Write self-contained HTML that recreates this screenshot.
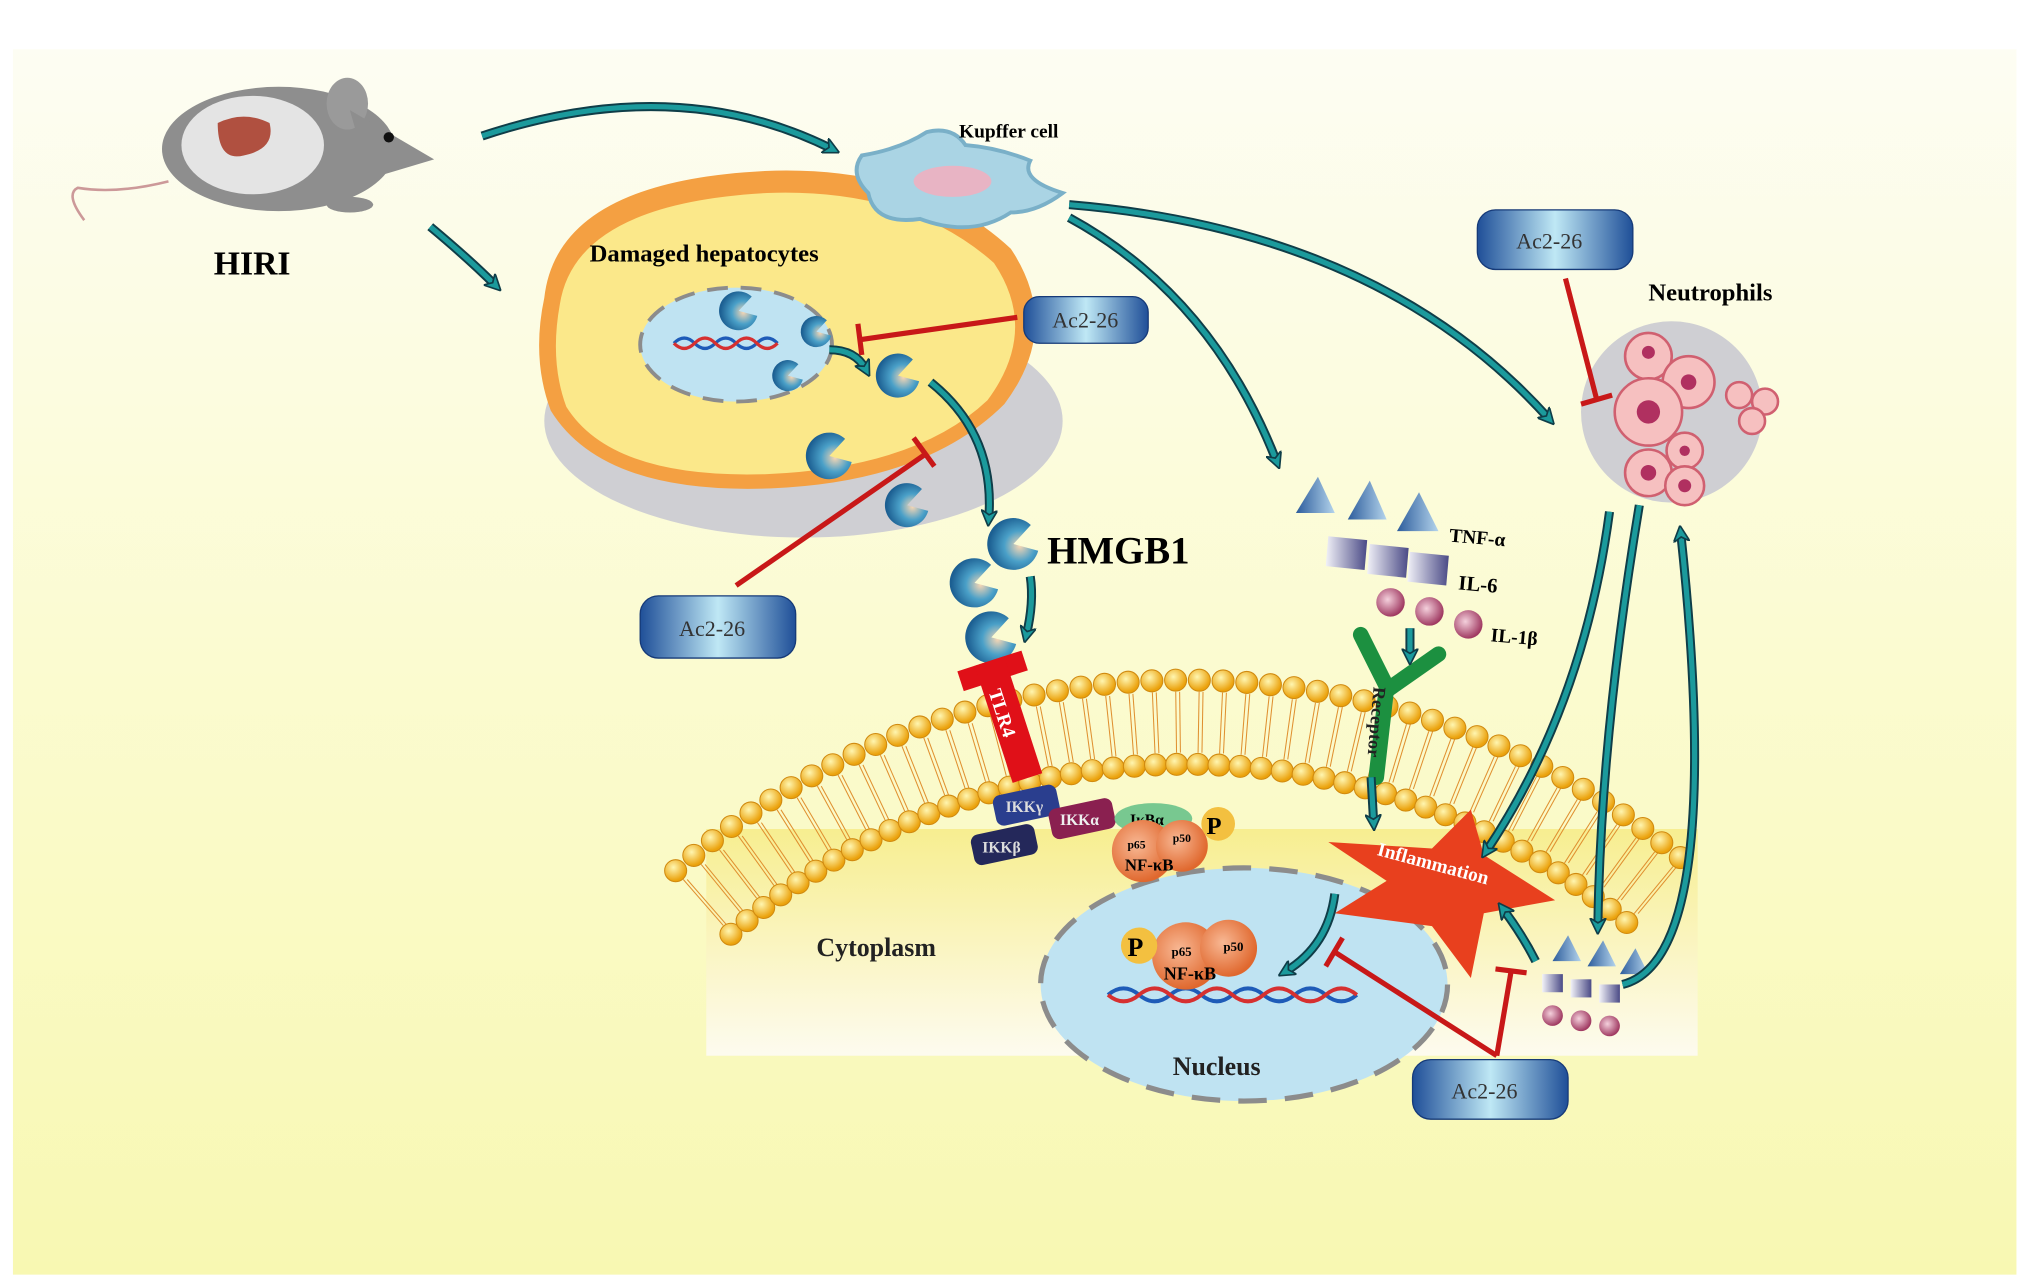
<!DOCTYPE html>
<html><head><meta charset="utf-8"><style>
html,body{margin:0;padding:0;background:#fff;width:2032px;height:1285px;overflow:hidden}
svg{display:block}
text{font-family:"Liberation Serif",serif;font-weight:bold}
</style></head><body>
<svg id="s" width="2032" height="1285" viewBox="0 0 1568 992" preserveAspectRatio="none" xmlns="http://www.w3.org/2000/svg">
<defs>
<linearGradient id="bg" x1="0" y1="0" x2="0" y2="1"><stop offset="0" stop-color="#fdfdf3"/><stop offset="0.5" stop-color="#fbfbd0"/><stop offset="1" stop-color="#f8f8b2"/></linearGradient>
<linearGradient id="cyt" x1="0" y1="0" x2="0" y2="1"><stop offset="0" stop-color="#f7ee90"/><stop offset="1" stop-color="#fdfbef"/></linearGradient>
<linearGradient id="ac" x1="0" y1="0" x2="1" y2="0"><stop offset="0" stop-color="#1f4f98"/><stop offset="0.5" stop-color="#bfe8f5"/><stop offset="1" stop-color="#1f4f98"/></linearGradient>
<radialGradient id="ball" cx="0.4" cy="0.35" r="0.6"><stop offset="0" stop-color="#fff6b0"/><stop offset="1" stop-color="#eba20c"/></radialGradient>
<radialGradient id="hm" cx="0.6" cy="0.6" r="0.6"><stop offset="0" stop-color="#f6d6b4"/><stop offset="0.5" stop-color="#4aa0c8"/><stop offset="1" stop-color="#1c5f92"/></radialGradient>
<radialGradient id="nf" cx="0.4" cy="0.4" r="0.6"><stop offset="0" stop-color="#f8b894"/><stop offset="1" stop-color="#e0682e"/></radialGradient>
<linearGradient id="tri" x1="0" y1="0" x2="1" y2="0"><stop offset="0" stop-color="#2c5c9c"/><stop offset="1" stop-color="#b4d4ec"/></linearGradient>
<linearGradient id="sq" x1="0" y1="0" x2="1" y2="0"><stop offset="0" stop-color="#f2f2f8"/><stop offset="1" stop-color="#4a4a86"/></linearGradient>
<radialGradient id="ci" cx="0.4" cy="0.4" r="0.6"><stop offset="0" stop-color="#f4d0dc"/><stop offset="1" stop-color="#a03a62"/></radialGradient>
<marker id="ah" viewBox="0 0 10 10" refX="5" refY="5" markerWidth="3.2" markerHeight="3.2" orient="auto"><path d="M0,0 L10,5 L0,10 L3,5z" fill="#1b9a9c" stroke="#0f3d48" stroke-width="1"/></marker>
</defs>
<rect x="0" y="0" width="1568" height="992" fill="#fff"/>
<rect x="10" y="38" width="1546" height="946" fill="url(#bg)"/>
<!-- cytoplasm -->
<rect x="545" y="640" width="765" height="175" fill="url(#cyt)"/>
<g id="mem"></g>
<!-- nucleus -->
<ellipse cx="960" cy="760" rx="157" ry="90" fill="#bfe3f2" stroke="#8c8c8c" stroke-width="4" stroke-dasharray="22,14"/>
<text x="630" y="738" font-size="20" fill="#222">Cytoplasm</text>
<text x="905" y="830" font-size="20" fill="#222">Nucleus</text>
<g stroke-width="3" fill="none">
<path d="M855,768 q12,-10 24,0 t24,0 t24,0 t24,0 t24,0 t24,0 t24,0 t24,0" stroke="#1e5bb8"/>
<path d="M855,768 q12,10 24,0 t24,0 t24,0 t24,0 t24,0 t24,0 t24,0 t24,0" stroke="#d63030"/>
</g>
<circle cx="915" cy="738" r="26" fill="url(#nf)"/><circle cx="948" cy="732" r="22" fill="url(#nf)"/>
<circle cx="879" cy="730" r="14" fill="#f3c040"/><text x="870" y="738" font-size="20">P</text>
<text x="904" y="738" font-size="10">p65</text><text x="944" y="734" font-size="10">p50</text>
<text x="898" y="756" font-size="14">NF-κB</text>
<!-- mouse -->
<ellipse cx="215" cy="115" rx="90" ry="48" fill="#8e8e8e"/>
<ellipse cx="195" cy="112" rx="55" ry="38" fill="#e4e4e4"/>
<path d="M168,95 q20,-10 40,0 q5,20 -20,25 q-20,5 -20,-25z" fill="#b05040"/>
<ellipse cx="268" cy="80" rx="16" ry="20" fill="#9a9a9a"/>
<path d="M270,85 l65,38 l-50,15z" fill="#8e8e8e"/><circle cx="300" cy="106" r="4" fill="#111"/>
<ellipse cx="270" cy="158" rx="18" ry="6" fill="#8e8e8e"/>
<path d="M130,140 q-40,10 -70,5 q-10,5 5,25" stroke="#c99" stroke-width="2" fill="none"/>
<text x="165" y="212" font-size="26">HIRI</text>
<!-- hepatocyte -->
<ellipse cx="620" cy="325" rx="200" ry="90" fill="#cfcfd3"/>
<path d="M420,230 q10,-90 170,-98 q120,-5 190,60 q40,60 -5,120 q-60,60 -180,65 q-130,5 -170,-60 q-15,-40 -5,-87z" fill="#f4a042"/>
<path d="M432,235 q12,-78 160,-86 q110,-4 175,54 q35,52 -5,106 q-55,52 -170,57 q-120,4 -155,-52 q-13,-35 -5,-79z" fill="#fbe88a"/>
<ellipse cx="568" cy="266" rx="74" ry="44" fill="#bfe3f2" stroke="#8c8c8c" stroke-width="3" stroke-dasharray="16,10"/>
<text x="455" y="202" font-size="19">Damaged hepatocytes</text>
<g stroke-width="2.5" fill="none"><path d="M520,265 q8,-8 16,0 t16,0 t16,0 t16,0 t16,0" stroke="#1e5bb8"/><path d="M520,265 q8,8 16,0 t16,0 t16,0 t16,0 t16,0" stroke="#d63030"/></g>
<!-- kupffer -->
<path d="M665,120 q30,-5 50,-18 q20,-5 30,10 q25,2 50,12 q-8,15 25,25 q-20,15 -40,15 q-30,20 -70,5 q-35,5 -40,-20 q-15,-15 -5,-29z" fill="#aad4e4" stroke="#7ab0c8" stroke-width="3"/>
<ellipse cx="735" cy="140" rx="30" ry="12" fill="#e8b4c4"/>
<text x="740" y="106" font-size="15">Kupffer cell</text>
<!-- neutrophils -->
<ellipse cx="1290" cy="318" rx="70" ry="70" fill="#cfcfd3"/>
<g fill="#f6c0c0" stroke="#d06070" stroke-width="2">
<circle cx="1272" cy="275" r="18"/><circle cx="1303" cy="295" r="20"/><circle cx="1272" cy="318" r="26"/><circle cx="1300" cy="348" r="14"/><circle cx="1272" cy="365" r="18"/><circle cx="1300" cy="375" r="15"/><circle cx="1342" cy="305" r="10"/><circle cx="1362" cy="310" r="10"/><circle cx="1352" cy="325" r="10"/></g>
<g fill="#b03060"><circle cx="1272" cy="318" r="9"/><circle cx="1303" cy="295" r="6"/><circle cx="1272" cy="365" r="6"/><circle cx="1300" cy="375" r="5"/><circle cx="1272" cy="272" r="5"/><circle cx="1300" cy="348" r="4"/></g>
<text x="1272" y="232" font-size="19">Neutrophils</text>
<g id="pac"></g>
<text x="808" y="435" font-size="30">HMGB1</text>
<!-- cytokines -->
<g fill="url(#tri)"><path d="M1000,396 l17,-28 l13,28z"/><path d="M1040,401 l17,-30 l13,30z"/><path d="M1078,410 l17,-30 l15,30z"/></g>
<g fill="url(#sq)"><path d="M1025,414 l30,3 l-2,23 l-30,-3z"/><path d="M1057,420 l30,3 l-2,23 l-30,-3z"/><path d="M1088,426 l30,3 l-2,23 l-30,-3z"/></g>
<g fill="url(#ci)"><circle cx="1073" cy="465" r="11"/><circle cx="1103" cy="472" r="11"/><circle cx="1133" cy="482" r="11"/></g>
<text x="1118" y="418" font-size="15" transform="rotate(5 1118 418)">TNF-α</text>
<text x="1125" y="455" font-size="16" transform="rotate(5 1125 455)">IL-6</text>
<text x="1150" y="495" font-size="15" transform="rotate(5 1150 495)">IL-1β</text>
<g fill="url(#tri)"><path d="M1198,742 l12,-20 l10,20z"/><path d="M1225,746 l12,-20 l10,20z"/><path d="M1250,752 l12,-20 l10,20z"/></g>
<g fill="url(#sq)"><rect x="1190" y="752" width="16" height="14"/><rect x="1212" y="756" width="16" height="14"/><rect x="1234" y="760" width="16" height="14"/></g>
<g fill="url(#ci)"><circle cx="1198" cy="784" r="8"/><circle cx="1220" cy="788" r="8"/><circle cx="1242" cy="792" r="8"/></g>
<!-- receptor -->
<path d="M1050,490 l20,40 l-8,70" stroke="#1c9040" stroke-width="12" fill="none" stroke-linecap="round"/>
<path d="M1110,505 l-40,28" stroke="#1c9040" stroke-width="12" stroke-linecap="round"/>
<text x="1060" y="530" font-size="14" fill="#222" transform="rotate(95 1060 530)">Receptor</text>
<!-- TLR4 -->
<g transform="rotate(-18 778 555)">
<rect x="752" y="508" width="52" height="16" fill="#e01018"/>
<rect x="766" y="508" width="24" height="95" fill="#e01018"/>
<text x="770" y="530" font-size="15" fill="#fff" transform="rotate(90 770 530)">TLR4</text>
</g>
<!-- IKK -->
<g font-size="12"><rect x="767" y="610" width="50" height="24" rx="6" fill="#2a3e8e" transform="rotate(-12 790 622)"/><text x="776" y="627" fill="#ddd">IKKγ</text>
<rect x="810" y="620" width="50" height="24" rx="6" fill="#8a2050" transform="rotate(-12 835 632)"/><text x="818" y="637" fill="#eee">IKKα</text>
<rect x="750" y="640" width="50" height="24" rx="6" fill="#24285a" transform="rotate(-12 775 652)"/><text x="758" y="658" fill="#ddd">IKKβ</text></g>
<ellipse cx="890" cy="632" rx="30" ry="12" fill="#78c890"/><text x="872" y="637" font-size="12">IκBα</text>
<circle cx="882" cy="657" r="24" fill="url(#nf)"/><circle cx="912" cy="653" r="20" fill="url(#nf)"/>
<circle cx="940" cy="636" r="13" fill="#f3c040"/><text x="931" y="644" font-size="19">P</text>
<text x="870" y="655" font-size="9">p65</text><text x="905" y="650" font-size="9">p50</text><text x="868" y="672" font-size="13">NF-κB</text>
<!-- Inflammation star -->
<path d="M1025,650 l80,5 l30,-30 l10,35 l55,35 l-55,10 l-10,50 l-30,-40 l-75,-10 l40,-25z" fill="#e8401e"/>
<text x="1062" y="660" font-size="15" fill="#fff" transform="rotate(15 1062 660)">Inflammation</text>
<!-- arrows -->
<g stroke="#0f3d48" stroke-width="7" fill="none">
<path d="M372,105 q150,-50 270,10"/><path d="M332,175 q30,25 50,45"/><path d="M825,158 q240,20 370,165"/><path d="M825,168 q110,60 160,188"/>
<path d="M640,270 q20,0 28,15"/><path d="M718,295 q50,40 45,105"/><path d="M795,445 q3,20 -3,45"/>
<path d="M1088,485 l0,22"/><path d="M1058,600 l2,35"/>
<path d="M1242,395 q-20,150 -95,262"/><path d="M1265,390 q-30,180 -32,325"/><path d="M1252,760 q80,-20 45,-348"/>
<path d="M1030,690 q-5,40 -38,60"/><path d="M1185,742 q-10,-20 -25,-40"/>
</g>
<g stroke="#1b9a9c" stroke-width="4" fill="none" marker-end="url(#ah)">
<path d="M372,105 q150,-50 270,10"/><path d="M332,175 q30,25 50,45"/><path d="M825,158 q240,20 370,165"/><path d="M825,168 q110,60 160,188"/>
<path d="M640,270 q20,0 28,15"/><path d="M718,295 q50,40 45,105"/><path d="M795,445 q3,20 -3,45"/>
<path d="M1088,485 l0,22"/><path d="M1058,600 l2,35"/>
<path d="M1242,395 q-20,150 -95,262"/><path d="M1265,390 q-30,180 -32,325"/><path d="M1252,760 q80,-20 45,-348"/>
<path d="M1030,690 q-5,40 -38,60"/><path d="M1185,742 q-10,-20 -25,-40"/>
</g>
<g stroke="#c81818" stroke-width="4" fill="none">
<path d="M785,245 L665,262"/><path d="M662,250 l3,24"/>
<path d="M568,452 L715,350"/><path d="M705,338 l16,22"/>
<path d="M1208,215 L1232,308"/><path d="M1220,312 l24,-7"/>
<path d="M1155,815 L1030,735"/><path d="M1023,746 l13,-22"/>
<path d="M1155,815 L1166,750"/><path d="M1154,748 l24,3"/>
</g>
<g font-size="17">
<rect x="790" y="229" width="96" height="36" rx="12" fill="url(#ac)" stroke="#163a78"/><text x="812" y="253" style="font-weight:normal" fill="#333">Ac2-26</text>
<rect x="494" y="460" width="120" height="48" rx="14" fill="url(#ac)" stroke="#163a78"/><text x="524" y="491" style="font-weight:normal" fill="#333">Ac2-26</text>
<rect x="1140" y="162" width="120" height="46" rx="14" fill="url(#ac)" stroke="#163a78"/><text x="1170" y="192" style="font-weight:normal" fill="#333">Ac2-26</text>
<rect x="1090" y="818" width="120" height="46" rx="14" fill="url(#ac)" stroke="#163a78"/><text x="1120" y="848" style="font-weight:normal" fill="#333">Ac2-26</text>
</g>
</svg>
<script>
var NS="http://www.w3.org/2000/svg",m=document.getElementById("mem");
function el(t,a,p){var e=document.createElementNS(NS,t);for(var k in a)e.setAttribute(k,a[k]);(p||m).appendChild(e);return e;}
var cx=915,cy=1125,R=600,R2=535;
for(var a=-131;a<=-50;a+=1.75){var r=a*Math.PI/180,c=Math.cos(r),s=Math.sin(r);
 for(var k=0;k<2;k++){var rr=R-12-k*4;el("line",{x1:cx+(R-9)*c+k*3,y1:cy+(R-9)*s,x2:cx+(R2+9)*c+k*3,y2:cy+(R2+9)*s,stroke:"#e09030","stroke-width":0.8});}
 el("circle",{cx:cx+R*c,cy:cy+R*s,r:8.5,fill:"url(#ball)",stroke:"#d08a10","stroke-width":0.8});
 el("circle",{cx:cx+R2*c,cy:cy+R2*s,r:8.5,fill:"url(#ball)",stroke:"#d08a10","stroke-width":0.8});}
var p=document.getElementById("pac");
[[570,240,15],[630,256,12],[608,290,12],[693,290,17],[640,352,18],[700,390,17],[782,420,20],[752,450,19],[765,492,20]].forEach(function(d){
 var x=d[0],y=d[1],r=d[2];
 el("path",{d:"M"+x+","+y+" L"+(x+r*0.95)+","+(y-r*0.3)+" A"+r+","+r+" 0 1,0 "+(x+r*0.7)+","+(y+r*0.7)+" Z",fill:"url(#hm)",transform:"rotate(-30 "+x+" "+y+")"},p);
});
</script>
</body></html>
